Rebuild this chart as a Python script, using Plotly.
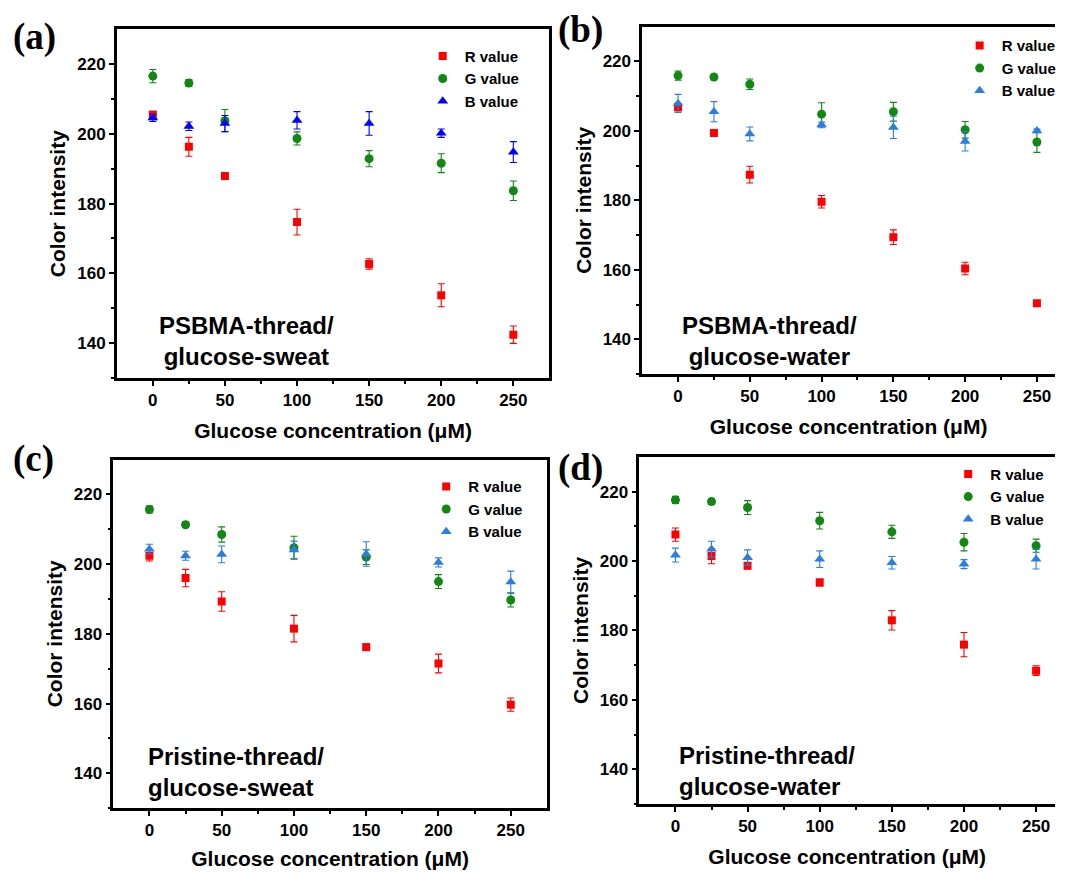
import plotly.graph_objects as go

# ---------------- data ----------------
conc = [0, 25, 50, 100, 150, 200, 250]
series_names = ["R value", "G value", "B value"]

# (a) PSBMA-thread / glucose-sweat
a_R = [205.5, 196.3, 187.9, 174.7, 162.7, 153.7, 142.4]
a_R_err = [1.0, 2.7, 0.6, 3.7, 1.5, 3.3, 2.5]
a_G = [216.6, 214.6, 203.8, 198.7, 192.9, 191.6, 183.7]
a_G_err = [1.9, 1.0, 3.2, 1.9, 2.3, 2.7, 2.8]
a_B = [204.6, 202.2, 203.0, 203.9, 203.0, 200.2, 194.8]
a_B_err = [1.0, 1.2, 2.3, 2.5, 3.4, 1.2, 3.0]

# (b) PSBMA-thread / glucose-water
b_R = [206.8, 199.4, 187.4, 179.6, 169.4, 160.4, 150.4]
b_R_err = [1.0, 0.5, 2.4, 1.8, 2.1, 1.8, 0.7]
b_G = [215.9, 215.5, 213.4, 204.8, 205.5, 200.3, 196.8]
b_G_err = [1.3, 0.5, 1.5, 3.3, 2.7, 2.4, 3.0]
b_B = [207.9, 205.5, 199.1, 201.7, 201.0, 197.0, 200.0]
b_B_err = [2.6, 2.9, 2.0, 0.8, 3.2, 2.8, 0.5]

# (c) Pristine-thread / glucose-sweat
c_R = [202.4, 196.0, 189.3, 181.5, 176.2, 171.5, 159.7]
c_R_err = [1.5, 2.5, 2.8, 3.8, 0.8, 2.7, 1.9]
c_G = [215.7, 211.3, 208.5, 204.7, 202.0, 195.0, 189.7]
c_G_err = [1.0, 0.8, 2.2, 3.3, 2.1, 2.0, 2.0]
c_B = [204.3, 202.4, 202.8, 204.1, 202.9, 200.5, 194.9]
c_B_err = [1.4, 1.3, 2.4, 2.5, 3.5, 1.3, 3.1]

# (d) Pristine-thread / glucose-water
d_R = [207.6, 201.4, 198.6, 193.8, 182.9, 175.9, 168.4]
d_R_err = [1.9, 2.2, 0.8, 1.0, 2.8, 3.5, 1.4]
d_G = [217.6, 217.1, 215.4, 211.6, 208.4, 205.4, 204.4]
d_G_err = [1.0, 0.8, 2.0, 2.4, 1.9, 2.5, 1.9]
d_B = [201.7, 203.4, 201.0, 200.5, 199.5, 199.1, 200.5]
d_B_err = [2.0, 2.3, 2.2, 2.4, 1.8, 1.3, 2.8]

panel_letters = ["(a)", "(b)", "(c)", "(d)"]
panel_notes = ["PSBMA-thread/<br>glucose-sweat", "PSBMA-thread/<br>glucose-water",
               "Pristine-thread/<br>glucose-sweat", "Pristine-thread/<br>glucose-water"]
x_title = "Glucose concentration (μM)"
y_title = "Color intensity"
x_ticks = [0, 50, 100, 150, 200, 250]
y_ticks = [140, 160, 180, 200, 220]

# ---------------- styling ----------------
PAGE_MARGIN = 8            # default body margin of the html page
W, H = 1070 - 2 * PAGE_MARGIN, 878 - 2 * PAGE_MARGIN
FONT = "Liberation Sans, Arial, sans-serif"
RED = "#ff0000"
GREEN = "#118811"
BLUE_A = "#0000ff"
BLUE = "#2a7de1"

def px_x(p):
    return (p - PAGE_MARGIN) / W

def px_y(p):
    return 1 - (p - PAGE_MARGIN) / H

panels = [
    dict(data=[(a_R, a_R_err), (a_G, a_G_err), (a_B, a_B_err)], blue=BLUE_A,
         xdom=[px_x(117.5), px_x(553)], ydom=[px_y(380.5), px_y(29.5)], xr=[-25, 275],
         box=True, leg=(px_x(423.5), px_y(40)),
         letter=(34.5, 37.5), note=(248, 343.3, "center")),
    dict(data=[(b_R, b_R_err), (b_G, b_G_err), (b_B, b_B_err)], blue=BLUE,
         xdom=[px_x(646.4), 1.0], ydom=[px_y(376.7), px_y(26.7)], xr=[-25, 262.6],
         box=False, leg=(px_x(964), px_y(29.5)),
         letter=(584, 30), note=(774.5, 343.3, "center")),
    dict(data=[(c_R, c_R_err), (c_G, c_G_err), (c_B, c_B_err)], blue=BLUE,
         xdom=[px_x(114), px_x(550.5)], ydom=[px_y(813.8), px_y(462.7)], xr=[-25, 275],
         box=True, leg=(px_x(427), px_y(473.5)),
         letter=(33.5, 462.5), note=(147, 777.7, "left")),
    dict(data=[(d_R, d_R_err), (d_G, d_G_err), (d_B, d_B_err)], blue=BLUE,
         xdom=[px_x(643.6), 1.0], ydom=[px_y(809.5), px_y(460)], xr=[-25, 263.1],
         box=False, leg=(px_x(952.5), px_y(461)),
         letter=(584.5, 471), note=(681.5, 776.7, "left")),
]

fig = go.Figure()
layout = dict(
    width=W, height=H,
    margin=dict(l=0, r=0, t=0, b=0),
    paper_bgcolor="white", plot_bgcolor="white",
    font=dict(family=FONT, color="black"),
    showlegend=True,
    annotations=[],
)

for i, p in enumerate(panels):
    n = i + 1
    sfx = "" if n == 1 else str(n)
    xa, ya = "x" + sfx, "y" + sfx
    legname = "legend" + sfx
    colors = [RED, GREEN, p["blue"]]
    symbols = ["square", "circle", "triangle-up"]
    sizes = [8, 9, 9.5]
    for (vals, errs), name, col, sym, sz in zip(p["data"], series_names, colors, symbols, sizes):
        fig.add_trace(go.Scatter(
            x=conc, y=vals, mode="markers", name=name,
            marker=dict(symbol=sym, size=sz, color=col, line=dict(width=0)),
            error_y=dict(type="data", array=errs, visible=True, color=col,
                         thickness=1.1, width=3.5),
            xaxis=xa, yaxis=ya, legend=legname,
        ))

    axis_common = dict(
        showline=True, linecolor="black", linewidth=2.5,
        ticks="outside", ticklen=5, tickwidth=2, tickcolor="black",
        showgrid=False, zeroline=False,
        tickfont=dict(family=FONT, size=17, color="black", weight="bold"),
    )
    layout["xaxis" + sfx] = dict(
        axis_common, domain=p["xdom"], range=p["xr"], anchor=ya,
        tickvals=x_ticks, mirror=True,
        minor=dict(tickvals=[25, 75, 125, 175, 225], ticks="outside",
                   ticklen=3, tickwidth=2, tickcolor="black"),
        title=dict(text=x_title, standoff=15,
                   font=dict(family=FONT, size=21, color="black", weight="bold")),
    )
    layout["yaxis" + sfx] = dict(
        axis_common, domain=p["ydom"], range=[130, 230], anchor=xa,
        tickvals=y_ticks, mirror=p["box"],
        minor=dict(tickvals=[130, 150, 170, 190, 210], ticks="outside",
                   ticklen=3, tickwidth=2, tickcolor="black"),
        title=dict(text=y_title, standoff=6,
                   font=dict(family=FONT, size=21, color="black", weight="bold")),
    )
    layout[legname] = dict(
        x=p["leg"][0], y=p["leg"][1], xanchor="left", yanchor="top",
        bgcolor="rgba(0,0,0,0)", borderwidth=0, itemwidth=34,
        tracegroupgap=0,
        font=dict(family=FONT, size=15, color="black", weight="bold"),
    )
    lx, ly = p["letter"]
    layout["annotations"].append(dict(
        text=panel_letters[i], x=px_x(lx), y=px_y(ly), xref="paper", yref="paper",
        xanchor="center", yanchor="middle", showarrow=False,
        font=dict(family="Liberation Serif, Times New Roman, serif", size=37,
                  color="black", weight="bold"),
    ))
    nx, ny, al = p["note"]
    layout["annotations"].append(dict(
        text=panel_notes[i], x=px_x(nx), y=px_y(ny), xref="paper", yref="paper",
        xanchor=al, yanchor="middle", align=al, showarrow=False,
        font=dict(family=FONT, size=24, color="black", weight="bold"),
    ))

fig.update_layout(**layout)
fig.write_html("out.html")
